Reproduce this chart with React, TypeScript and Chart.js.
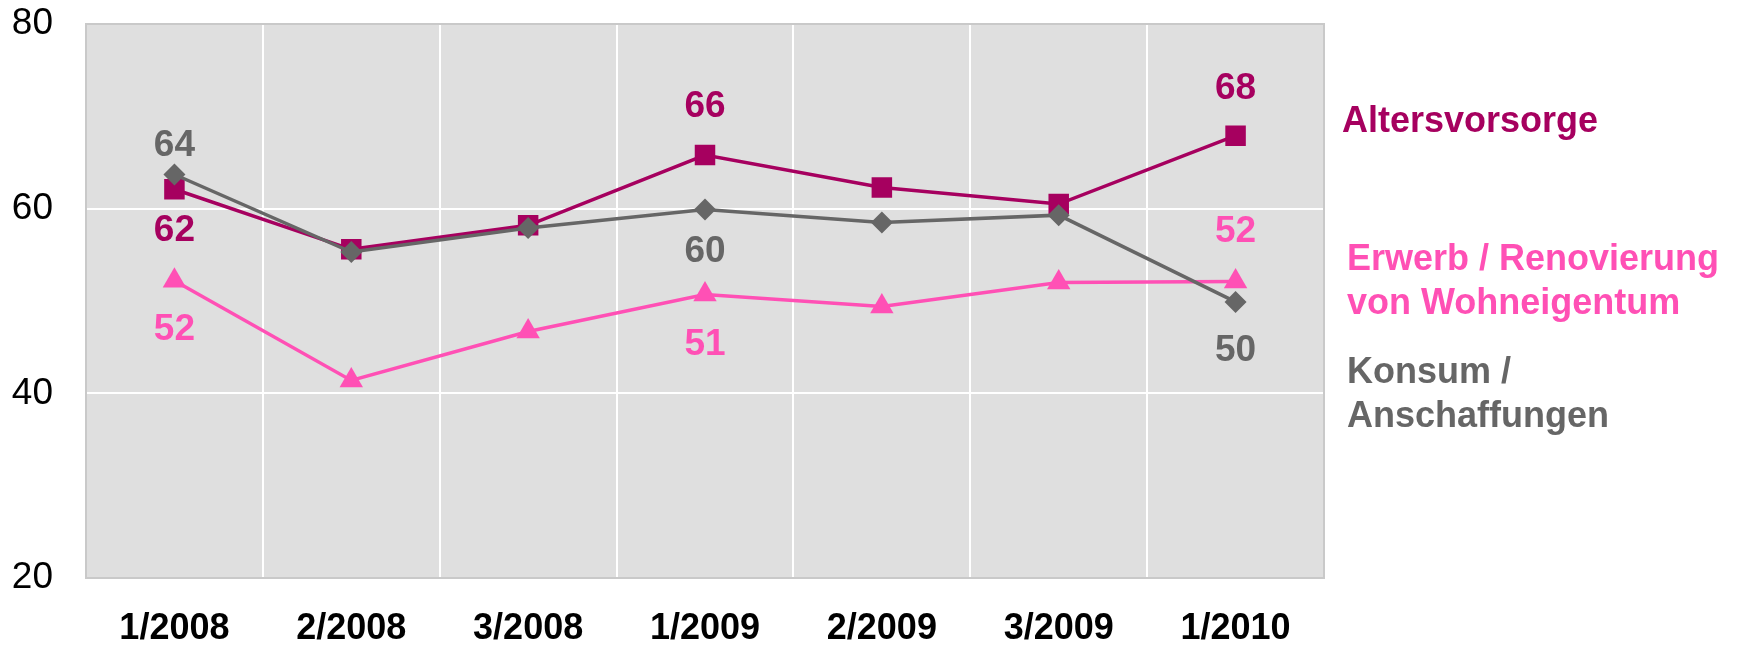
import React, { useEffect, useRef } from 'react';
import { Chart, registerables } from 'chart.js';

Chart.register(...registerables);

// ---- data ----
const categories = ['1/2008', '2/2008', '3/2008', '1/2009', '2/2009', '3/2009', '1/2010'];
const konsum = [63.7, 55.3, 57.9, 59.9, 58.5, 59.3, 49.9];
const altersvorsorge = [62.1, 55.6, 58.2, 65.8, 62.3, 60.5, 67.9];
const erwerb = [52.2, 41.4, 46.7, 50.7, 49.4, 52.0, 52.1];
const yTickValues = [20, 40, 60, 80];

const legendKonsum = ['Konsum /', 'Anschaffungen'];
const legendAlters = ['Altersvorsorge'];
const legendErwerb = ['Erwerb / Renovierung', 'von Wohneigentum'];

// ---- styles ----
const C_KONSUM = '#666666';
const C_ALTERS = '#A6005F';
const C_ERWERB = '#FF50B5';
const FONT = 'Arial, "Liberation Sans", sans-serif';

// which points carry a value label, and where (vertical offset from point)
const valueLabels = [
  { ds: 0, i: 0, dy: -29 },
  { ds: 1, i: 0, dy: 42 },
  { ds: 2, i: 0, dy: 49 },
  { ds: 1, i: 3, dy: -48 },
  { ds: 0, i: 3, dy: 42 },
  { ds: 2, i: 3, dy: 50 },
  { ds: 1, i: 6, dy: -47 },
  { ds: 2, i: 6, dy: -50 },
  { ds: 0, i: 6, dy: 49 },
];

// side legend blocks: x, first baseline, colour
const sideLegend = [
  { lines: legendAlters, x: 1342, y: 132, color: C_ALTERS },
  { lines: legendErwerb, x: 1347, y: 270, color: C_ERWERB },
  { lines: legendKonsum, x: 1347, y: 383, color: C_KONSUM },
];

const bgPlugin = {
  id: 'plotBg',
  beforeDraw(chart: any) {
    const { ctx, chartArea: a } = chart;
    ctx.save();
    ctx.fillStyle = '#DFDFDF';
    ctx.fillRect(a.left, a.top, a.right - a.left, a.bottom - a.top);
    ctx.restore();
  },
  beforeDatasetsDraw(chart: any) {
    const { ctx, chartArea: a } = chart;
    ctx.save();
    ctx.strokeStyle = '#C9C9C9';
    ctx.lineWidth = 2;
    ctx.strokeRect(a.left, a.top, a.right - a.left, a.bottom - a.top);
    ctx.restore();
  },
};

const labelPlugin = {
  id: 'valueLabels',
  afterDatasetsDraw(chart: any) {
    const { ctx } = chart;
    ctx.save();
    ctx.font = `bold 37px ${FONT}`;
    ctx.textAlign = 'center';
    ctx.textBaseline = 'middle';
    valueLabels.forEach((l) => {
      const ds = chart.data.datasets[l.ds];
      const pt = chart.getDatasetMeta(l.ds).data[l.i];
      ctx.fillStyle = ds.borderColor;
      ctx.fillText(String(Math.round(ds.data[l.i])), pt.x, pt.y + l.dy);
    });
    ctx.font = `bold 36px ${FONT}`;
    ctx.textAlign = 'left';
    ctx.textBaseline = 'alphabetic';
    sideLegend.forEach((b) => {
      ctx.fillStyle = b.color;
      b.lines.forEach((t, k) => ctx.fillText(t, b.x, b.y + k * 44));
    });
    ctx.restore();
  },
};

export default function App() {
  const ref = useRef<HTMLCanvasElement>(null);
  useEffect(() => {
    if (!ref.current) return;
    const chart = new Chart(ref.current, {
      type: 'line',
      data: {
        labels: categories,
        datasets: [
          {
            label: 'Konsum / Anschaffungen',
            data: konsum,
            borderColor: C_KONSUM,
            backgroundColor: C_KONSUM,
            borderWidth: 3.5,
            pointStyle: 'rectRot',
            pointRadius: 11,
            pointBorderWidth: 0,
          },
          {
            label: 'Altersvorsorge',
            data: altersvorsorge,
            borderColor: C_ALTERS,
            backgroundColor: C_ALTERS,
            borderWidth: 3.5,
            pointStyle: 'rect',
            pointRadius: 14.5,
            pointBorderWidth: 0,
          },
          {
            label: 'Erwerb / Renovierung von Wohneigentum',
            data: erwerb,
            borderColor: C_ERWERB,
            backgroundColor: C_ERWERB,
            borderWidth: 3.5,
            pointStyle: 'triangle',
            pointRadius: 13.5,
            pointBorderWidth: 0,
          },
        ],
      },
      options: {
        responsive: false,
        animation: false,
        devicePixelRatio: 1,
        layout: { padding: { top: 24, right: 422, left: 0, bottom: 0 } },
        plugins: { legend: { display: false }, tooltip: { enabled: false } },
        scales: {
          x: {
            offset: true,
            grid: { color: '#FFFFFF', lineWidth: 2, offset: true, drawTicks: false },
            border: { display: false },
            ticks: {
              color: '#000000',
              font: { family: FONT, size: 36, weight: 'bold' },
              padding: 29,
              maxRotation: 0,
              autoSkip: false,
            },
            afterFit(s: any) {
              s.height = 67;
              s.paddingLeft = 0;
              s.paddingRight = 0;
            },
          },
          y: {
            min: 20,
            max: 80,
            afterBuildTicks(s: any) { s.ticks = yTickValues.map((v) => ({ value: v })); },
            grid: { color: '#FFFFFF', lineWidth: 2, drawTicks: false },
            border: { display: false },
            ticks: {
              color: '#000000',
              font: { family: FONT, size: 37 },
              padding: 33,
            },
            afterFit(s: any) {
              s.width = 86;
              s.paddingTop = 0;
              s.paddingBottom = 0;
            },
          },
        },
      },
      plugins: [bgPlugin, labelPlugin],
    });
    return () => chart.destroy();
  }, []);
  return (
    <div style={{ position: 'absolute', left: 0, top: 0, width: 1746, height: 645, background: '#fff' }}>
      <canvas ref={ref} width={1746} height={645} style={{ display: 'block' }} />
    </div>
  );
}
